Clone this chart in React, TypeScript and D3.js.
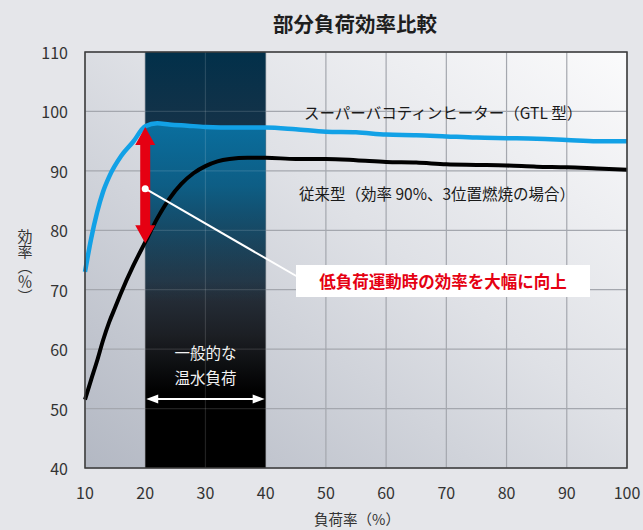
import { useEffect, useRef } from 'react';
import * as d3 from 'd3';

// 負荷率 (%) と効率 (%)
const gtlLoad = [10, 11, 12, 13, 14, 16, 18, 20, 22, 24, 27, 30, 35, 40, 45, 50, 55, 60, 65, 70, 75, 80, 85, 90, 95, 100];
const gtlEff = [73, 78.5, 83, 86.5, 89, 92.5, 94.9, 97.5, 98, 97.8, 97.6, 97.4, 97.3, 97.3, 97.0, 96.6, 96.5, 96.1, 96.0, 95.8, 95.6, 95.5, 95.4, 95.2, 95.0, 95.0];

const convLoad = [10, 11, 12, 13, 14, 15, 16, 18, 20, 22, 24, 26, 28, 30, 32, 34, 37, 40, 45, 50, 55, 60, 65, 70, 75, 80, 85, 90, 95, 100];
const convEff = [51.5, 54.8, 58, 61.5, 64.5, 67, 69.5, 74, 78, 82, 85.3, 87.8, 89.6, 90.8, 91.6, 92.0, 92.2, 92.2, 92.0, 92.0, 91.8, 91.5, 91.4, 91.1, 91.0, 90.9, 90.7, 90.6, 90.4, 90.2];

const xTicks = [10, 20, 30, 40, 50, 60, 70, 80, 90, 100];
const yTicks = [40, 50, 60, 70, 80, 90, 100, 110];

// 一般的な温水負荷 range and the improvement arrow
const typicalRange = [20, 40];
const arrowLoad = 20;
const arrowFrom = 77.8;
const arrowTo = 97.4;
const calloutValue = 87;

export default function App() {
  const svgRef = useRef<SVGSVGElement>(null);

  useEffect(() => {
    document.body.style.margin = '0';
    if (!svgRef.current) return;
    d3.select(svgRef.current).selectAll('*').remove();

    const width = 643;
    const height = 530;
    const margin = { top: 52, right: 16, bottom: 62, left: 85 };
    const font = '"Noto Sans CJK JP", "Noto Sans", sans-serif';

    const svg = d3.select(svgRef.current).attr('width', width).attr('height', height);

    svg.append('rect').attr('width', width).attr('height', height).attr('fill', '#e5e6ea');

    const x = d3.scaleLinear().domain([10, 100]).range([margin.left, width - margin.right]);
    const y = d3.scaleLinear().domain([40, 110]).range([height - margin.bottom, margin.top]);

    const defs = svg.append('defs');

    const bg = defs.append('linearGradient').attr('id', 'plotBg')
      .attr('x1', 0).attr('y1', 1).attr('x2', 1).attr('y2', 0);
    bg.append('stop').attr('offset', '0%').attr('stop-color', '#b3b8c3');
    bg.append('stop').attr('offset', '55%').attr('stop-color', '#dfe1e6');
    bg.append('stop').attr('offset', '100%').attr('stop-color', '#fbfbfc');

    const band = defs.append('linearGradient').attr('id', 'bandBg')
      .attr('x1', 0).attr('y1', 0).attr('x2', 0).attr('y2', 1);
    band.append('stop').attr('offset', '0%').attr('stop-color', '#02304a');
    band.append('stop').attr('offset', '30%').attr('stop-color', '#213447');
    band.append('stop').attr('offset', '55%').attr('stop-color', '#283340');
    band.append('stop').attr('offset', '68%').attr('stop-color', '#1c1f24');
    band.append('stop').attr('offset', '82%').attr('stop-color', '#000000');
    band.append('stop').attr('offset', '100%').attr('stop-color', '#000000');

    const blueFade = defs.append('linearGradient').attr('id', 'blueFade')
      .attr('gradientUnits', 'userSpaceOnUse')
      .attr('x1', 0).attr('y1', y(98)).attr('x2', 0).attr('y2', y(68));
    blueFade.append('stop').attr('offset', '0%').attr('stop-color', '#0a6f9f').attr('stop-opacity', 1);
    blueFade.append('stop').attr('offset', '35%').attr('stop-color', '#0a6590').attr('stop-opacity', 0.85);
    blueFade.append('stop').attr('offset', '100%').attr('stop-color', '#0a5070').attr('stop-opacity', 0);

    defs.append('clipPath').attr('id', 'bandClip')
      .append('rect')
      .attr('x', x(typicalRange[0])).attr('y', margin.top)
      .attr('width', x(typicalRange[1]) - x(typicalRange[0]))
      .attr('height', y(40) - y(110));

    // Plot background
    svg.append('rect')
      .attr('x', x(10)).attr('y', y(110))
      .attr('width', x(100) - x(10)).attr('height', y(40) - y(110))
      .attr('fill', 'url(#plotBg)');

    // Grid (light area)
    const grid = svg.append('g');
    grid.selectAll('line.v').data(xTicks).join('line')
      .attr('x1', (d) => x(d)).attr('x2', (d) => x(d))
      .attr('y1', y(40)).attr('y2', y(110))
      .attr('stroke', '#a4a7ae').attr('stroke-width', 1.2);
    grid.selectAll('line.h').data(yTicks).join('line')
      .attr('x1', x(10)).attr('x2', x(100))
      .attr('y1', (d) => y(d)).attr('y2', (d) => y(d))
      .attr('stroke', '#a4a7ae').attr('stroke-width', 1.2);

    // Typical load band
    svg.append('rect')
      .attr('x', x(typicalRange[0])).attr('y', y(110))
      .attr('width', x(typicalRange[1]) - x(typicalRange[0]))
      .attr('height', y(40) - y(110))
      .attr('fill', 'url(#bandBg)');

    const gtlPts = gtlLoad.map((d, i) => [d, gtlEff[i]] as [number, number]);
    const convPts = convLoad.map((d, i) => [d, convEff[i]] as [number, number]);

    const area = d3.area<[number, number]>()
      .x((d) => x(d[0])).y0(y(40)).y1((d) => y(d[1]))
      .curve(d3.curveMonotoneX);
    svg.append('path')
      .attr('d', area(gtlPts) as string)
      .attr('fill', 'url(#blueFade)')
      .attr('clip-path', 'url(#bandClip)');

    // Grid lines over the band
    const bandGrid = svg.append('g').attr('clip-path', 'url(#bandClip)');
    bandGrid.selectAll('line.v').data(xTicks).join('line')
      .attr('x1', (d) => x(d)).attr('x2', (d) => x(d))
      .attr('y1', y(40)).attr('y2', y(110))
      .attr('stroke', '#ffffff').attr('stroke-opacity', 0.13).attr('stroke-width', 1.2);
    bandGrid.selectAll('line.h').data(yTicks).join('line')
      .attr('x1', x(10)).attr('x2', x(100))
      .attr('y1', (d) => y(d)).attr('y2', (d) => y(d))
      .attr('stroke', '#ffffff').attr('stroke-opacity', 0.13).attr('stroke-width', 1.2);

    // Lines
    const line = d3.line<[number, number]>()
      .x((d) => x(d[0])).y((d) => y(d[1]))
      .curve(d3.curveMonotoneX);

    svg.append('path').attr('d', line(convPts) as string)
      .attr('fill', 'none').attr('stroke', '#000').attr('stroke-width', 4)
      .attr('stroke-linejoin', 'round');
    svg.append('path').attr('d', line(gtlPts) as string)
      .attr('fill', 'none').attr('stroke', '#12a1e6').attr('stroke-width', 4.5)
      .attr('stroke-linejoin', 'round');

    // Frame
    svg.append('rect')
      .attr('x', x(10)).attr('y', y(110))
      .attr('width', x(100) - x(10)).attr('height', y(40) - y(110))
      .attr('fill', 'none').attr('stroke', '#3a3a3a').attr('stroke-width', 1.5);

    // Red double arrow
    const ax = x(arrowLoad);
    const yTop = y(arrowTo);
    const yBot = y(arrowFrom);
    const headL = 18;
    const headW = 10;
    const shaftW = 5;
    svg.append('path')
      .attr('d', [
        `M${ax},${yTop}`,
        `L${ax + headW},${yTop + headL}`,
        `L${ax + shaftW},${yTop + headL}`,
        `L${ax + shaftW},${yBot - headL}`,
        `L${ax + headW},${yBot - headL}`,
        `L${ax},${yBot}`,
        `L${ax - headW},${yBot - headL}`,
        `L${ax - shaftW},${yBot - headL}`,
        `L${ax - shaftW},${yTop + headL}`,
        `L${ax - headW},${yTop + headL}`,
        'Z',
      ].join(''))
      .attr('fill', '#e50012');

    // Callout
    const boxX = 296;
    const boxY = 265;
    const boxW = 294;
    const boxH = 32;
    svg.append('line')
      .attr('x1', ax).attr('y1', y(calloutValue))
      .attr('x2', boxX + 2).attr('y2', boxY + 12)
      .attr('stroke', '#fff').attr('stroke-width', 2);
    svg.append('circle')
      .attr('cx', ax).attr('cy', y(calloutValue)).attr('r', 3.5).attr('fill', '#fff');
    svg.append('rect')
      .attr('x', boxX).attr('y', boxY).attr('width', boxW).attr('height', boxH)
      .attr('fill', '#fff');
    svg.append('text')
      .attr('x', boxX + boxW / 2).attr('y', boxY + boxH / 2)
      .attr('text-anchor', 'middle').attr('dominant-baseline', 'central')
      .attr('font-family', font).attr('font-size', 16.5).attr('font-weight', 'bold')
      .attr('fill', '#e50012')
      .text('低負荷運動時の効率を大幅に向上');

    // Band label + white arrow
    const bandMid = x((typicalRange[0] + typicalRange[1]) / 2);
    svg.append('text')
      .attr('x', bandMid).attr('y', 352).attr('dominant-baseline', 'central')
      .attr('text-anchor', 'middle').attr('font-family', font).attr('font-size', 15.5)
      .attr('fill', '#f2f2f2').text('一般的な');
    svg.append('text')
      .attr('x', bandMid).attr('y', 377).attr('dominant-baseline', 'central')
      .attr('text-anchor', 'middle').attr('font-family', font).attr('font-size', 15.5)
      .attr('fill', '#f2f2f2').text('温水負荷');
    const wy = 399;
    const x0 = x(typicalRange[0]) + 1;
    const x1 = x(typicalRange[1]) - 1;
    svg.append('line')
      .attr('x1', x0 + 8).attr('x2', x1 - 8).attr('y1', wy).attr('y2', wy)
      .attr('stroke', '#fff').attr('stroke-width', 2);
    svg.append('path')
      .attr('d', `M${x0},${wy}L${x0 + 12},${wy - 4.5}L${x0 + 12},${wy + 4.5}Z M${x1},${wy}L${x1 - 12},${wy - 4.5}L${x1 - 12},${wy + 4.5}Z`)
      .attr('fill', '#fff');

    // Series labels
    svg.append('text')
      .attr('x', 304).attr('y', 112).attr('dominant-baseline', 'central')
      .attr('font-family', font).attr('font-size', 15.5).attr('fill', '#1a1a1a')
      .text('スーパーバコティンヒーター（GTL 型）');
    svg.append('text')
      .attr('x', 299).attr('y', 193).attr('dominant-baseline', 'central')
      .attr('font-family', font).attr('font-size', 15.5).attr('fill', '#1a1a1a')
      .text('従来型（効率 90%、3位置燃焼の場合）');

    // Title
    svg.append('text')
      .attr('x', 355).attr('y', 23).attr('dominant-baseline', 'central')
      .attr('text-anchor', 'middle').attr('font-family', font)
      .attr('font-size', 20.5).attr('font-weight', 'bold').attr('fill', '#1e1e1e')
      .text('部分負荷効率比較');

    // Axis ticks
    svg.append('g').selectAll('text').data(yTicks).join('text')
      .attr('x', 68).attr('y', (d) => y(d)).attr('dominant-baseline', 'central')
      .attr('text-anchor', 'end').attr('font-family', font).attr('font-size', 16)
      .attr('fill', '#333').text((d) => d);
    svg.append('g').selectAll('text').data(xTicks).join('text')
      .attr('x', (d) => x(d)).attr('y', 492).attr('dominant-baseline', 'central')
      .attr('text-anchor', 'middle').attr('font-family', font).attr('font-size', 16)
      .attr('fill', '#333').text((d) => d);

    // Axis titles
    svg.append('text')
      .attr('x', 357).attr('y', 518).attr('dominant-baseline', 'central')
      .attr('text-anchor', 'middle').attr('font-family', font).attr('font-size', 14.5)
      .attr('fill', '#333').text('負荷率（%）');
    svg.append('text')
      .attr('x', 25).attr('y', 229)
      .attr('font-family', font).attr('font-size', 15).attr('fill', '#333')
      .style('writing-mode', 'vertical-rl')
      .text('効率（％）');
  }, []);

  return <svg ref={svgRef} style={{ display: 'block' }}></svg>;
}
